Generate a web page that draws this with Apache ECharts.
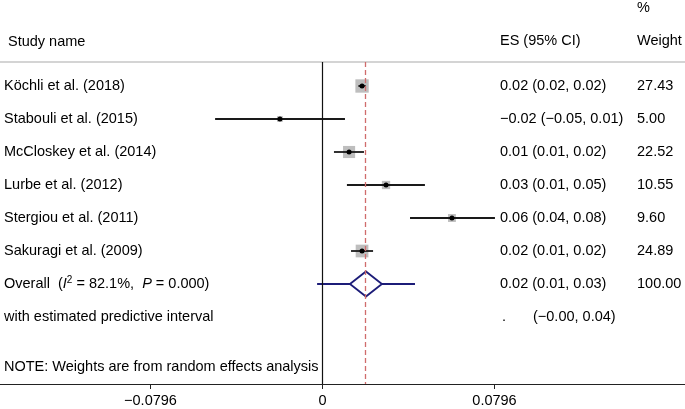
<!DOCTYPE html>
<html>
<head>
<meta charset="utf-8">
<script src="https://cdn.jsdelivr.net/npm/echarts@6/dist/echarts.min.js"></script>
<style>
html, body { margin: 0; padding: 0; background: #fff; }
#forest { width: 685px; height: 409px; }
</style>
</head>
<body>
<div id="forest"></div>
<script>
// study rows (top to bottom)
var studies = ['Köchli et al. (2018)', 'Stabouli et al. (2015)', 'McCloskey et al. (2014)',
    'Lurbe et al. (2012)', 'Stergiou et al. (2011)', 'Sakuragi et al. (2009)'];
var es = [0.0183, -0.0197, 0.0123, 0.0294, 0.0599, 0.0183];
var ciLow = [0.0166, -0.0497, 0.0053, 0.0113, 0.0405, 0.0132];
var ciHigh = [0.0200, 0.0104, 0.0192, 0.0474, 0.0798, 0.0234];
var weights = [27.43, 5.00, 22.52, 10.55, 9.60, 24.89];
var esLabels = ['0.02 (0.02, 0.02)', '\u22120.02 (\u22120.05, 0.01)', '0.01 (0.01, 0.02)',
    '0.03 (0.01, 0.05)', '0.06 (0.04, 0.08)', '0.02 (0.01, 0.02)'];
var weightLabels = ['27.43', '5.00', '22.52', '10.55', '9.60', '24.89'];

// pooled estimate
var overallEs = 0.0201;
var overallLow = 0.0127;
var overallHigh = 0.0275;
var predLow = -0.0025;
var predHigh = 0.0428;
var overallLabel = '0.02 (0.01, 0.03)';
var predLabel = '(\u22120.00, 0.04)';

var tickValues = [-0.0796, 0, 0.0796];

var FONT = "'Liberation Sans', Arial, Helvetica, sans-serif";
var FS = 14.5;
var chart = echarts.init(document.getElementById('forest'));

var studyData = studies.map(function (s, i) {
    return [i + 1, es[i], ciLow[i], ciHigh[i], weights[i]];
});

function txt(x, y, text) {
    return { type: 'text', style: { text: text, x: x, y: y, fill: '#000', font: FS + 'px ' + FONT, verticalAlign: 'middle' } };
}

var option = {
    animation: false,
    grid: { left: 0, right: 0, top: 62, bottom: 25 },
    xAxis: {
        type: 'value',
        min: -0.14924,
        max: 0.16775,
        splitLine: { show: false },
        axisLine: { show: true, lineStyle: { color: '#222', width: 1.2 } },
        axisTick: { show: true, customValues: tickValues, length: 5, lineStyle: { color: '#222' } },
        axisLabel: {
            customValues: tickValues,
            color: '#000',
            fontSize: FS,
            fontFamily: FONT,
            margin: 9,
            formatter: function (v) {
                if (v === 0) return '0';
                return (v < 0 ? '\u2212' : '') + Math.abs(v).toFixed(4);
            }
        }
    },
    yAxis: {
        type: 'value',
        inverse: true,
        min: 0.273,
        max: 10.03,
        show: false
    },
    graphic: [
        { type: 'line', shape: { x1: 0, y1: 62, x2: 685, y2: 62 }, style: { stroke: '#d4d4d4', lineWidth: 2 } },
        { type: 'text', left: 8, top: 34, style: { text: 'Study name', fill: '#000', font: FS + 'px ' + FONT } },
        { type: 'text', left: 500, top: 33, style: { text: 'ES (95% CI)', fill: '#000', font: FS + 'px ' + FONT } },
        { type: 'text', left: 637, top: 0, style: { text: '%', fill: '#000', font: FS + 'px ' + FONT } },
        { type: 'text', left: 637, top: 33, style: { text: 'Weight', fill: '#000', font: FS + 'px ' + FONT } }
    ],
    series: [
        {
            // reference lines
            type: 'line',
            data: [],
            markLine: {
                silent: true,
                symbol: 'none',
                label: { show: false },
                data: [
                    { xAxis: 0, lineStyle: { color: '#111', width: 1.2, type: 'solid' } },
                    { xAxis: overallEs, lineStyle: { color: '#d06c6c', width: 1.3, type: [5, 3] } }
                ]
            }
        },
        {
            type: 'custom',
            data: studyData,
            renderItem: function (params, api) {
                var row = api.value(0);
                var c = api.coord([api.value(1), row]);
                var l = api.coord([api.value(2), row]);
                var h = api.coord([api.value(3), row]);
                var s = Math.sqrt(api.value(4)) * 2.55;
                return {
                    type: 'group',
                    children: [
                        { type: 'rect', shape: { x: c[0] - s / 2, y: c[1] - s / 2, width: s, height: s }, style: { fill: '#bebebe' } },
                        { type: 'line', shape: { x1: l[0], y1: l[1], x2: h[0], y2: h[1] }, style: { stroke: '#1a1a1a', lineWidth: 1.8 } },
                        { type: 'circle', shape: { cx: c[0], cy: c[1], r: 2.5 }, style: { fill: '#000' } }
                    ]
                };
            }
        },
        {
            type: 'custom',
            data: [[7, overallEs, overallLow, overallHigh, predLow, predHigh]],
            renderItem: function (params, api) {
                var row = api.value(0);
                var c = api.coord([api.value(1), row]);
                var l = api.coord([api.value(2), row]);
                var h = api.coord([api.value(3), row]);
                var pl = api.coord([api.value(4), row]);
                var ph = api.coord([api.value(5), row]);
                var hh = 12.5;
                return {
                    type: 'group',
                    children: [
                        { type: 'line', shape: { x1: pl[0], y1: pl[1], x2: ph[0], y2: ph[1] }, style: { stroke: '#1c1c78', lineWidth: 1.8 } },
                        { type: 'polygon', shape: { points: [[l[0], c[1]], [c[0], c[1] - hh], [h[0], c[1]], [c[0], c[1] + hh]] },
                          style: { fill: '#fff', stroke: '#1c1c78', lineWidth: 1.8 } }
                    ]
                };
            }
        },
        {
            // text columns
            type: 'custom',
            data: studies.map(function (s, i) { return [i + 1]; }).concat([[7], [8], [9.515]]),
            renderItem: function (params, api) {
                var row = api.value(0);
                var y = api.coord([0, row])[1];
                var i = params.dataIndex;
                var kids = [];
                if (i < studies.length) {
                    kids.push(txt(4, y, studies[i]));
                    kids.push(txt(500, y, esLabels[i]));
                    kids.push(txt(637, y, weightLabels[i]));
                } else if (i === studies.length) {
                    kids.push({
                        type: 'text',
                        style: {
                            x: 4, y: y, verticalAlign: 'middle', fill: '#000',
                            text: '{a|Overall  (}{i|I}{s|2}{a| = 82.1%,  }{i|P}{a| = 0.000)}',
                            rich: {
                                a: { fontSize: FS, fontFamily: FONT, fill: '#000' },
                                i: { fontSize: FS, fontFamily: FONT, fontStyle: 'italic', fill: '#000' },
                                s: { fontSize: 10, fontFamily: FONT, fill: '#000', padding: [0, 0, 8, 0] }
                            }
                        }
                    });
                    kids.push(txt(500, y, overallLabel));
                    kids.push(txt(637, y, '100.00'));
                } else if (i === studies.length + 1) {
                    kids.push(txt(4, y, 'with estimated predictive interval'));
                    kids.push(txt(502, y, '.'));
                    kids.push(txt(533, y, predLabel));
                } else {
                    kids.push(txt(4, y, 'NOTE: Weights are from random effects analysis'));
                }
                return { type: 'group', children: kids };
            }
        }
    ]
};

chart.setOption(option);
</script>
</body>
</html>
